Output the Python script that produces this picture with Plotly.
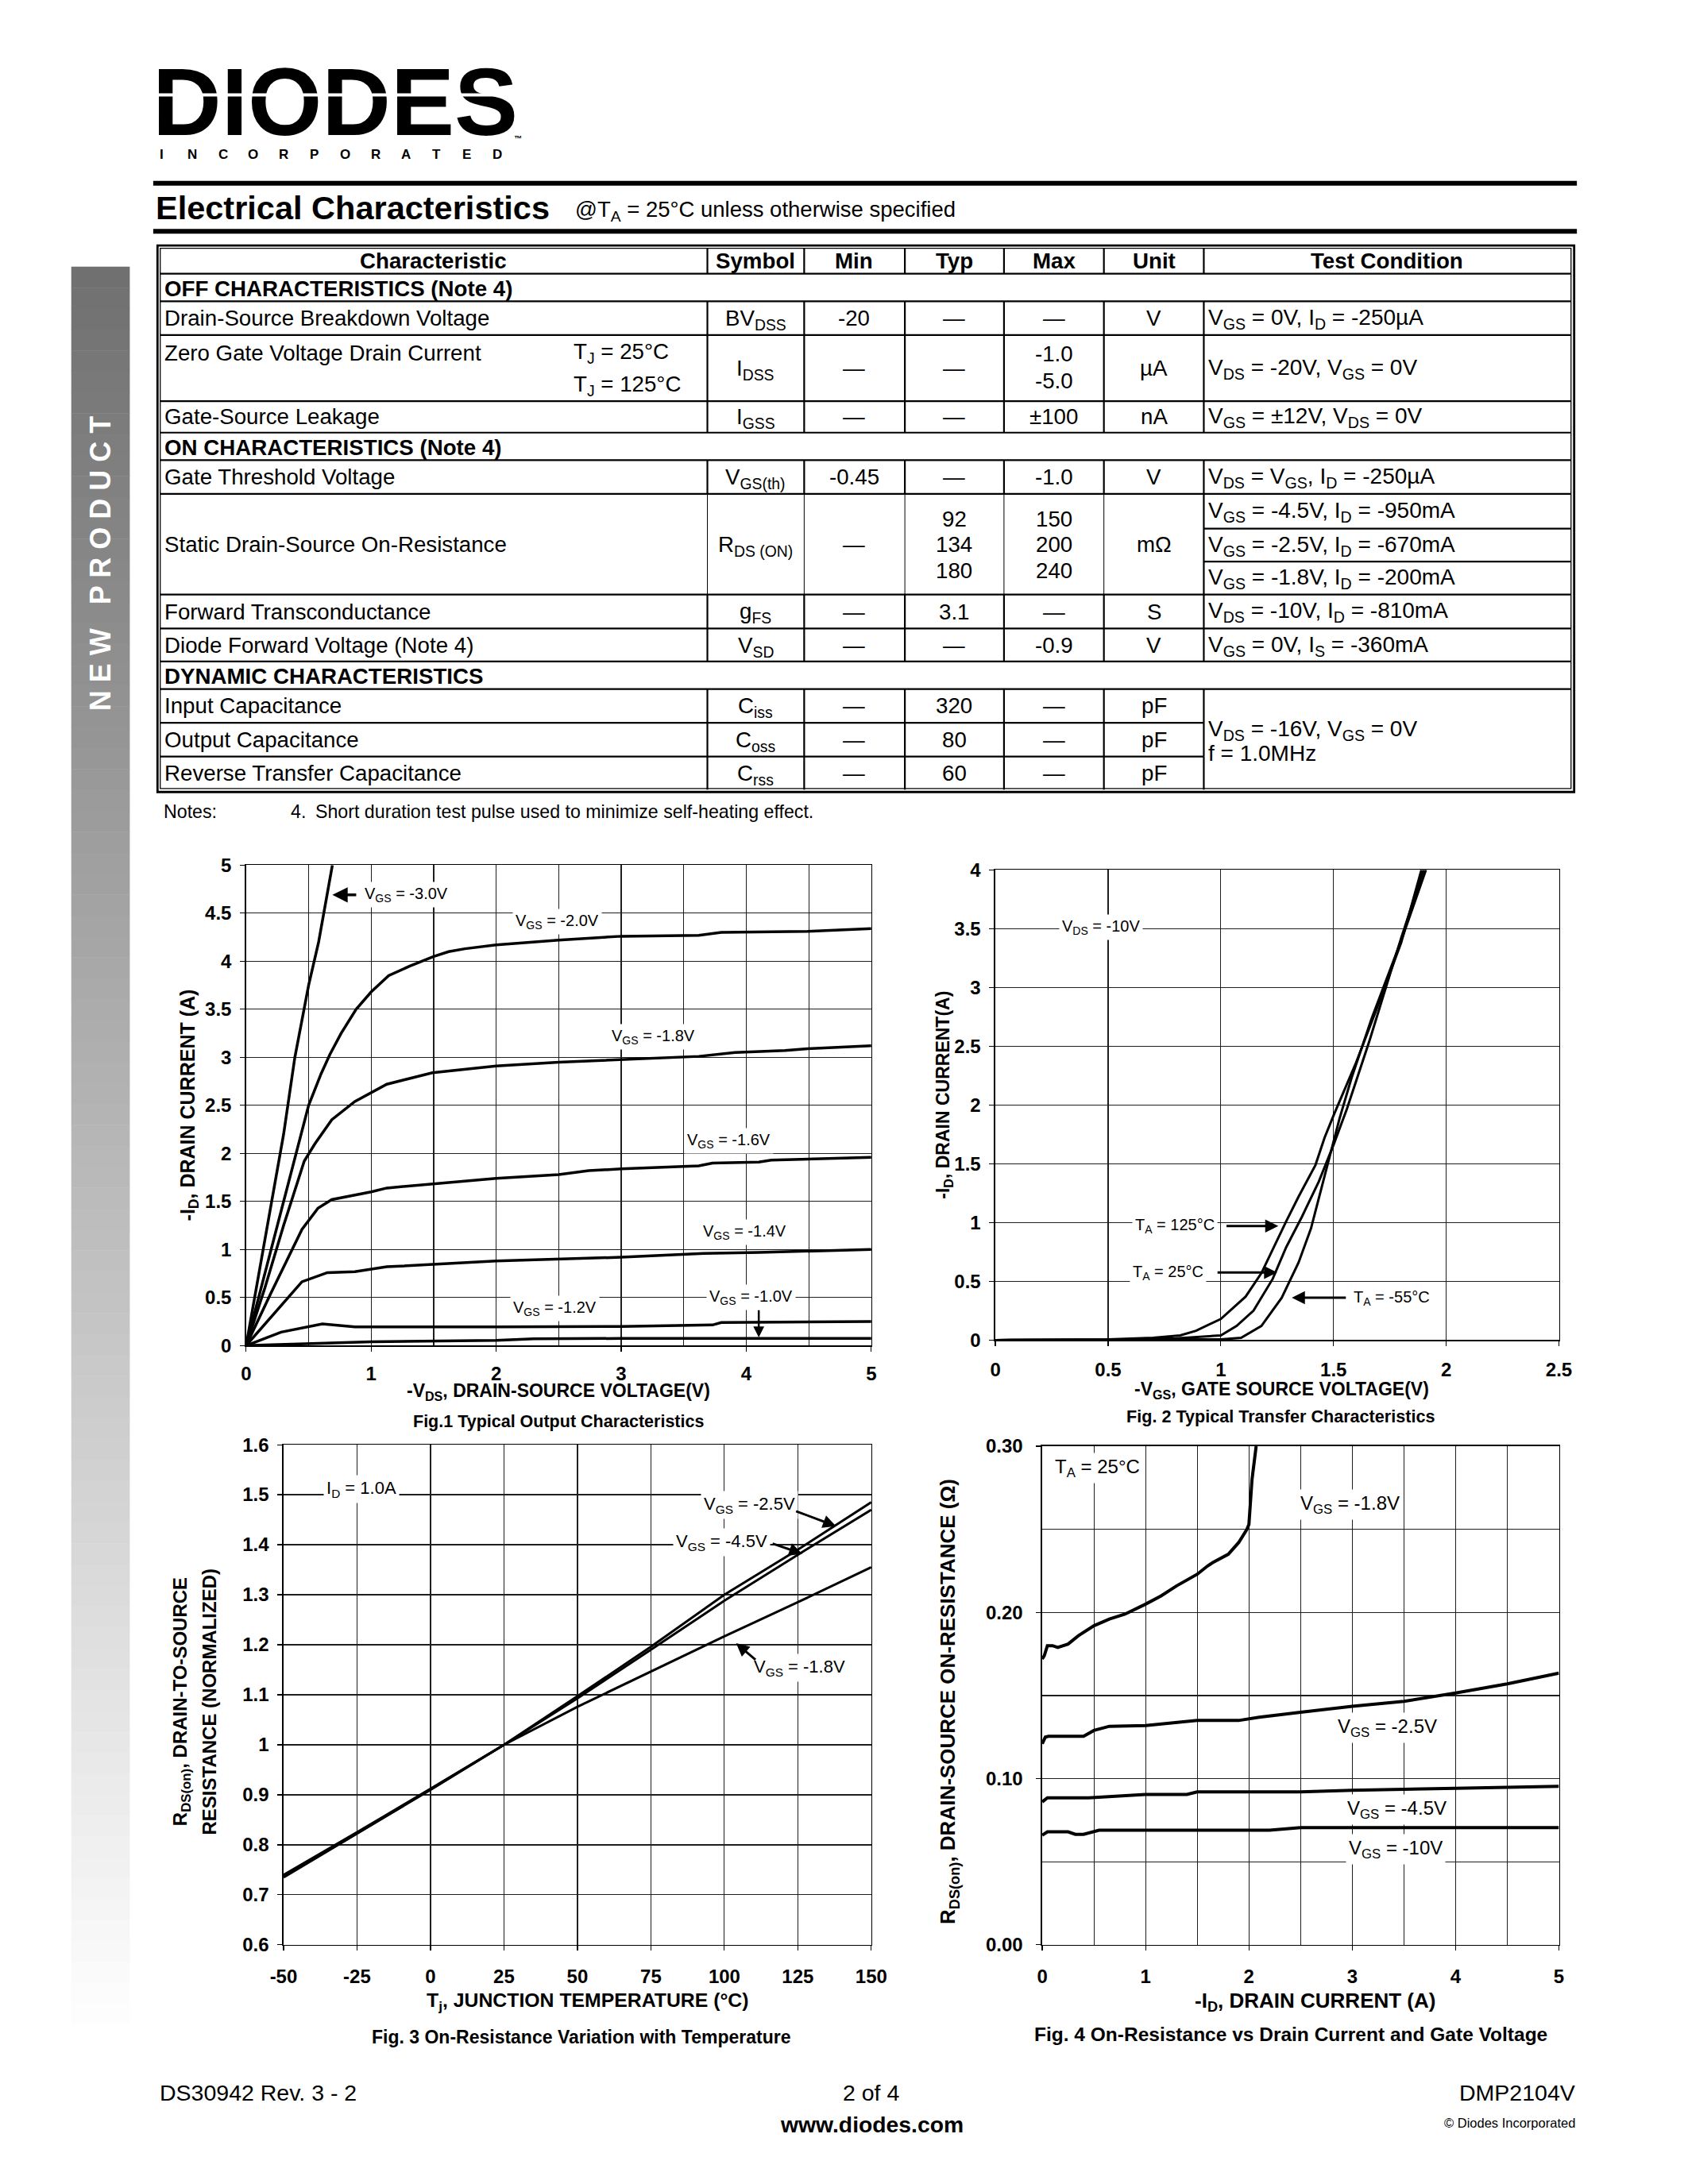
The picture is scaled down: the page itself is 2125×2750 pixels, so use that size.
import plotly.graph_objects as go

W, H = 2125, 2750
FONT = "Liberation Sans, Arial, Helvetica, sans-serif"

# ======================= DATA =======================
# --- Electrical characteristics table ---
col_headers = ["Characteristic", "Symbol", "Min", "Typ", "Max", "Unit", "Test Condition"]
section_titles = ["OFF CHARACTERISTICS (Note 4)", "ON CHARACTERISTICS (Note 4)", "DYNAMIC CHARACTERISTICS"]
char_names = ["Drain-Source Breakdown Voltage", "Zero Gate Voltage Drain Current", "Gate-Source Leakage",
              "Gate Threshold Voltage", "Static Drain-Source On-Resistance", "Forward Transconductance",
              "Diode Forward Voltage (Note 4)", "Input Capacitance", "Output Capacitance",
              "Reverse Transfer Capacitance"]
char_symbols = ["BV<sub>DSS</sub>", "I<sub>DSS</sub>", "I<sub>GSS</sub>", "V<sub>GS(th)</sub>",
                "R<sub>DS (ON)</sub>", "g<sub>FS</sub>", "V<sub>SD</sub>", "C<sub>iss</sub>",
                "C<sub>oss</sub>", "C<sub>rss</sub>"]
min_vals = ["-20", "—", "—", "-0.45", "—", "—", "—", "—", "—", "—"]
typ_vals = [["—"], ["—"], ["—"], ["—"], ["92", "134", "180"], ["3.1"], ["—"], ["320"], ["80"], ["60"]]
max_vals = [["—"], ["-1.0", "-5.0"], ["±100"], ["-1.0"], ["150", "200", "240"], ["—"], ["-0.9"],
            ["—"], ["—"], ["—"]]
unit_vals = ["V", "µA", "nA", "V", "mΩ", "S", "V", "pF", "pF", "pF"]
tj_conditions = ["T<sub>J</sub> = 25°C", "T<sub>J</sub> = 125°C"]
test_conds = [
    ["V<sub>GS</sub> = 0V, I<sub>D</sub> = -250µA"],
    ["V<sub>DS</sub> = -20V, V<sub>GS</sub> = 0V"],
    ["V<sub>GS</sub> = ±12V, V<sub>DS</sub> = 0V"],
    ["V<sub>DS</sub> = V<sub>GS</sub>, I<sub>D</sub> = -250µA"],
    ["V<sub>GS</sub> = -4.5V, I<sub>D</sub> = -950mA", "V<sub>GS</sub> = -2.5V, I<sub>D</sub> = -670mA",
     "V<sub>GS</sub> = -1.8V, I<sub>D</sub> = -200mA"],
    ["V<sub>DS</sub> = -10V, I<sub>D</sub> = -810mA"],
    ["V<sub>GS</sub> = 0V, I<sub>S</sub> = -360mA"],
]
cap_test_cond = ["V<sub>DS</sub> = -16V, V<sub>GS</sub> = 0V", "f = 1.0MHz"]
note_label = "Notes:"
note_num = "4."
note_text = "Short duration test pulse used to minimize self-heating effect."

# --- Fig.1 Typical Output Characteristics (-VDS [V], -ID [A]) ---
f1_vgs30_x = [0, 0.1, 0.2, 0.3, 0.39, 0.5, 0.58, 0.69]
f1_vgs30_y = [0, 0.72, 1.45, 2.2, 3.0, 3.75, 4.2, 5.0]
f1_vgs20_x = [0, 0.1, 0.25, 0.4, 0.5, 0.6, 0.67, 0.76, 0.88, 1.0, 1.14, 1.31, 1.5, 1.62, 1.75, 2.0, 2.5,
              3.0, 3.62, 3.8, 4.49, 5.0]
f1_vgs20_y = [0, 0.5, 1.25, 2.0, 2.5, 2.83, 3.03, 3.25, 3.5, 3.68, 3.85, 3.95, 4.05, 4.1, 4.13, 4.17, 4.22,
              4.26, 4.27, 4.3, 4.31, 4.34]
f1_vgs18_x = [0, 0.15, 0.3, 0.465, 0.55, 0.63, 0.685, 0.87, 1.125, 1.49, 2.0, 2.5, 3.0, 3.62, 3.91, 4.31,
              4.49, 5.0]
f1_vgs18_y = [0, 0.6, 1.25, 1.92, 2.1, 2.25, 2.35, 2.54, 2.72, 2.84, 2.91, 2.95, 2.98, 3.01, 3.05, 3.07,
              3.09, 3.12]
f1_vgs16_x = [0, 0.2, 0.447, 0.575, 0.685, 1.0, 1.125, 2.0, 2.5, 2.74, 3.0, 3.62, 3.73, 4.1, 4.2, 5.0]
f1_vgs16_y = [0, 0.55, 1.21, 1.43, 1.52, 1.6, 1.64, 1.74, 1.78, 1.82, 1.84, 1.87, 1.9, 1.91, 1.93, 1.96]
f1_vgs14_x = [0, 0.447, 0.65, 0.87, 1.125, 2.0, 3.0, 3.66, 4.1, 5.0]
f1_vgs14_y = [0, 0.665, 0.76, 0.77, 0.82, 0.88, 0.92, 0.96, 0.97, 1.0]
f1_vgs12_x = [0, 0.28, 0.61, 0.87, 2.0, 3.0, 3.73, 3.8, 5.0]
f1_vgs12_y = [0, 0.14, 0.225, 0.196, 0.196, 0.2, 0.215, 0.24, 0.25]
f1_vgs10_x = [0, 1.0, 2.0, 2.3, 3.0, 5.0]
f1_vgs10_y = [0, 0.04, 0.055, 0.07, 0.075, 0.075]

# --- Fig.2 Typical Transfer Characteristics (-VGS [V], -ID [A]) ---
f2_t125_x = [0, 0.5, 0.7, 0.82, 0.89, 1.0, 1.11, 1.18, 1.29, 1.345, 1.42, 1.46, 1.5, 1.6, 1.69, 1.8, 1.89]
f2_t125_y = [0, 0.006, 0.02, 0.04, 0.08, 0.18, 0.37, 0.57, 1.01, 1.22, 1.49, 1.72, 1.91, 2.36, 2.81, 3.38, 4.0]
f2_t25_x = [0, 0.5, 0.8, 1.0, 1.07, 1.145, 1.23, 1.29, 1.36, 1.435, 1.5, 1.56, 1.66, 1.8, 1.9]
f2_t25_y = [0, 0.003, 0.015, 0.04, 0.12, 0.25, 0.52, 0.79, 1.05, 1.35, 1.66, 1.97, 2.55, 3.42, 4.0]
f2_tm55_x = [0, 0.5, 1.0, 1.09, 1.18, 1.27, 1.345, 1.4, 1.47, 1.526, 1.58, 1.67, 1.81, 1.91]
f2_tm55_y = [0, 0.002, 0.006, 0.02, 0.12, 0.36, 0.66, 0.95, 1.46, 1.88, 2.23, 2.74, 3.45, 4.0]

# --- Fig.3 On-Resistance vs Temperature (Tj [°C], normalized RDS(on)) ---
f3_temp = [-50, -25, 0, 25, 50, 75, 100, 125, 150]
f3_vgs25 = [0.74, 0.825, 0.912, 1.0, 1.097, 1.196, 1.30, 1.39, 1.485]
f3_vgs45 = [0.735, 0.822, 0.91, 1.0, 1.093, 1.19, 1.288, 1.38, 1.47]
f3_vgs18 = [0.737, 0.823, 0.911, 1.0, 1.076, 1.147, 1.217, 1.285, 1.355]
f3_xtick_vals = [-50, -25, 0, 25, 50, 75, 100, 125, 150]
f3_xtick_text = ["-50", "-25", "0", "25", "50", "75", "100", "125", "150"]

# --- Fig.4 On-Resistance vs Drain Current (-ID [A], RDS(on) [ohm]) ---
f4_vgs18_x = [0.0, 0.02, 0.05, 0.1, 0.15, 0.25, 0.35, 0.5, 0.65, 0.8, 1.0, 1.15, 1.3, 1.5, 1.6, 1.65, 1.8,
              1.9, 1.98, 2.0, 2.03, 2.07]
f4_vgs18_y = [0.172, 0.174, 0.18, 0.18, 0.179, 0.181, 0.186, 0.192, 0.196, 0.199, 0.205, 0.21, 0.216,
              0.223, 0.228, 0.23, 0.235, 0.242, 0.25, 0.253, 0.28, 0.30]
f4_vgs25_x = [0.0, 0.03, 0.06, 0.4, 0.5, 0.65, 1.0, 1.5, 1.9, 2.0, 2.1, 2.5, 3.0, 3.5, 4.0, 4.5, 5.0]
f4_vgs25_y = [0.121, 0.125, 0.1255, 0.1255, 0.129, 0.1315, 0.132, 0.135, 0.135, 0.136, 0.137, 0.14,
              0.1435, 0.1465, 0.1515, 0.157, 0.1635]
f4_vgs45_x = [0.0, 0.05, 0.45, 0.6, 1.0, 1.4, 1.5, 2.5, 3.0, 4.0, 5.0]
f4_vgs45_y = [0.086, 0.0885, 0.0885, 0.089, 0.0905, 0.0905, 0.092, 0.092, 0.093, 0.0942, 0.0954]
f4_vgs10_x = [0.0, 0.05, 0.25, 0.32, 0.4, 0.55, 1.0, 2.2, 2.5, 5.0]
f4_vgs10_y = [0.066, 0.068, 0.068, 0.0665, 0.0665, 0.069, 0.069, 0.069, 0.0705, 0.0705]

# ======================= HELPERS =======================
def X(p):
    return p / W


def Y(p):
    return 1 - p / H


shapes = []
annotations = []


def pline(x0, y0, x1, y1, w=2.2, color="black"):
    shapes.append(dict(type="line", xref="paper", yref="paper", x0=X(x0), y0=Y(y0), x1=X(x1), y1=Y(y1),
                       line=dict(color=color, width=w)))


def prect(x0, y0, x1, y1, fill):
    shapes.append(dict(type="rect", xref="paper", yref="paper", x0=X(x0), y0=Y(y0), x1=X(x1), y1=Y(y1),
                       fillcolor=fill, line=dict(width=0), layer="below"))


def ptxt(x, y, text, size, bold=False, xanchor="left", yanchor="middle", color="black", angle=0, **kw):
    d = dict(xref="paper", yref="paper", x=X(x), y=Y(y), text=text, showarrow=False,
             xanchor=xanchor, yanchor=yanchor, textangle=angle,
             font=dict(family=FONT, size=size, color=color, weight="bold" if bold else "normal"))
    d.update(kw)
    annotations.append(d)


def dlab(n, x, y, text, size, xanchor="center"):
    s = "" if n == 1 else str(n)
    annotations.append(dict(xref="x" + s, yref="y" + s, x=x, y=y, text=text, showarrow=False,
                            xanchor=xanchor, yanchor="middle", bgcolor="white", borderpad=3,
                            font=dict(family=FONT, size=size, color="black")))


def darrow(n, tail, tip, width=3, size=1.1):
    s = "" if n == 1 else str(n)
    annotations.append(dict(xref="x" + s, yref="y" + s, axref="x" + s, ayref="y" + s,
                            x=tip[0], y=tip[1], ax=tail[0], ay=tail[1], text="", showarrow=True,
                            arrowhead=2, arrowsize=size, arrowwidth=width, arrowcolor="black",
                            standoff=0, startstandoff=0))


# ======================= PAGE DECORATION =======================
# side gradient bar
bar_top, bar_bot, fade_end = 325, 2720, 2560
nseg = 90
for i in range(nseg):
    y0 = bar_top + (bar_bot - bar_top) * i / nseg
    y1 = bar_top + (bar_bot - bar_top) * (i + 1) / nseg + 0.5
    t = min(1.0, (y0 - bar_top) / (fade_end - bar_top))
    v = int(round(112 + (255 - 112) * t))
    prect(74, y0, 149, y1, "rgb(%d,%d,%d)" % (v, v, v))
ptxt(111, 703, "N E W   P R O D U C T", 36, bold=True, xanchor="center", color="white", angle=-90)

# logo
ptxt(177, 115, "DIODES", 120, bold=True, height=100, valign="middle", borderpad=0)
annotations.append(dict(xref="paper", yref="paper", x=X(182), y=Y(107), text=" ", showarrow=False,
                        xanchor="left", yanchor="middle", width=450, height=3, bgcolor="white",
                        borderpad=0, font=dict(size=2)))
ptxt(646, 162, "™", 10, bold=True, xanchor="center")
for i, ch in enumerate("INCORPORATED"):
    ptxt(190 + i * 39.1, 182, ch, 17, bold=True, xanchor="center")

# header rules and title
pline(179, 219, 2003, 219, w=6)
pline(179, 280, 2003, 280, w=6)
ptxt(180, 250, "Electrical Characteristics", 41.5, bold=True)
ptxt(718, 254, "@T<sub>A</sub> = 25°C unless otherwise specified", 27.5)

# ======================= TABLE =======================
L_OUT, R_OUT, T_OUT, B_OUT = 184.5, 1999.5, 298, 993
L_IN, R_IN, T_IN, B_IN = 188, 1995.5, 301.5, 988.5
shapes.append(dict(type="rect", xref="paper", yref="paper", x0=X(L_OUT), y0=Y(B_OUT), x1=X(R_OUT),
                   y1=Y(T_OUT), line=dict(color="black", width=2.8)))
shapes.append(dict(type="rect", xref="paper", yref="paper", x0=X(L_IN), y0=Y(B_IN), x1=X(R_IN),
                   y1=Y(T_IN), line=dict(color="black", width=1.3)))

col_x = [889, 1013, 1142, 1269, 1397, 1525]
col_center = [538, 951, 1077, 1205, 1333, 1461, 1760]
header_band = (301, 334)
section_bands = [(334, 369), (536, 571), (827, 862)]
row_bands = [(369, 412), (412, 496), (496, 536), (571, 614), (614, 742), (742, 785), (785, 827),
             (862, 905), (905, 948), (948, 990)]

# horizontal rules
for yb in [334, 369, 412, 496, 536, 571, 614, 742, 785, 827, 862]:
    pline(L_IN, yb, R_IN, yb, w=2.2)
for yb in [905, 948]:
    pline(L_IN, yb, col_x[5], yb, w=2.2)
for yb in [658, 700]:
    pline(col_x[5], yb, R_IN, yb, w=2.2)

# vertical rules
for (a, b) in [header_band] + row_bands:
    for k, cx in enumerate(col_x):
        w = 2.2
        if (a, b) == (614, 742) and k < 5:
            w = 1.0
        pline(cx, a, cx, b, w=w)

TS = 27.7
# header text
for k in range(7):
    ptxt(col_center[k], 318, col_headers[k], TS, bold=True, xanchor="center")
for (a, b), s in zip(section_bands, section_titles):
    ptxt(191, (a + b) / 2 + 1, s, TS, bold=True)

# body text
for i, (a, b) in enumerate(row_bands):
    yc = (a + b) / 2
    name_y = 435 if i == 1 else yc
    ptxt(191, name_y, char_names[i], TS)
    ptxt(col_center[1], yc + 2, char_symbols[i], TS, xanchor="center")
    ptxt(col_center[2], yc, min_vals[i], TS, xanchor="center")
    tv = typ_vals[i]
    mv = max_vals[i]
    if len(tv) == 3:
        ys3 = [646, 678, 711]
        for j in range(3):
            ptxt(col_center[3], ys3[j], tv[j], TS, xanchor="center")
            ptxt(col_center[4], ys3[j], mv[j], TS, xanchor="center")
    else:
        ptxt(col_center[3], yc, tv[0], TS, xanchor="center")
        if len(mv) == 2:
            ptxt(col_center[4], 436, mv[0], TS, xanchor="center")
            ptxt(col_center[4], 470, mv[1], TS, xanchor="center")
        else:
            ptxt(col_center[4], yc, mv[0], TS, xanchor="center")
    ptxt(col_center[5], yc, unit_vals[i], TS, xanchor="center")
    if i < len(test_conds):
        tc = test_conds[i]
        if len(tc) == 3:
            for j, yy in enumerate([637, 680, 722]):
                ptxt(1529, yy, tc[j], 28)
        else:
            ptxt(1529, yc + 1, tc[0], 28)
ptxt(715, 435, tj_conditions[0], TS)
ptxt(715, 476, tj_conditions[1], TS)
ptxt(1529, 914, cap_test_cond[0], 28)
ptxt(1529, 944, cap_test_cond[1], 28)

# notes
ptxt(190, 1018, note_label, 23.2)
ptxt(353, 1018, note_num, 23.2)
ptxt(385, 1018, note_text, 23.2)

# ======================= CHARTS =======================
fig = go.Figure()

LW1, LW2, LW3, LW4 = 3.5, 3.0, 3.0, 4.0
for xs, ys in [(f1_vgs30_x, f1_vgs30_y), (f1_vgs20_x, f1_vgs20_y), (f1_vgs18_x, f1_vgs18_y),
               (f1_vgs16_x, f1_vgs16_y), (f1_vgs14_x, f1_vgs14_y), (f1_vgs12_x, f1_vgs12_y),
               (f1_vgs10_x, f1_vgs10_y)]:
    fig.add_trace(go.Scatter(x=xs, y=ys, mode="lines", line=dict(color="black", width=LW1),
                             xaxis="x", yaxis="y", hoverinfo="skip"))
for xs, ys in [(f2_t125_x, f2_t125_y), (f2_t25_x, f2_t25_y), (f2_tm55_x, f2_tm55_y)]:
    fig.add_trace(go.Scatter(x=xs, y=ys, mode="lines", line=dict(color="black", width=LW2),
                             xaxis="x2", yaxis="y2", hoverinfo="skip"))
for ys in [f3_vgs25, f3_vgs45, f3_vgs18]:
    fig.add_trace(go.Scatter(x=f3_temp, y=ys, mode="lines", line=dict(color="black", width=LW3),
                             xaxis="x3", yaxis="y3", hoverinfo="skip"))
for xs, ys in [(f4_vgs18_x, f4_vgs18_y), (f4_vgs25_x, f4_vgs25_y), (f4_vgs45_x, f4_vgs45_y),
               (f4_vgs10_x, f4_vgs10_y)]:
    fig.add_trace(go.Scatter(x=xs, y=ys, mode="lines", line=dict(color="black", width=LW4),
                             xaxis="x4", yaxis="y4", hoverinfo="skip"))

GRID = "#1e1e1e"
TICKSIZE = 24


def axis(domain, rng, dtick, anchor, minor=None, fmt=None, standoff=10):
    d = dict(domain=domain, range=rng, dtick=dtick, tick0=0,
             anchor=anchor, showline=True, linecolor="black", linewidth=1.6, mirror=True,
             showgrid=True, gridcolor=GRID, gridwidth=1.2, zeroline=False,
             ticks="outside", ticklen=6, tickwidth=1.2, tickcolor="black",
             ticklabelstandoff=standoff,
             tickfont=dict(family=FONT, size=TICKSIZE, color="black", weight="bold"), fixedrange=True)
    if minor is not None:
        d["minor"] = dict(dtick=minor, showgrid=True, gridcolor=GRID, gridwidth=1.2, ticks="")
    if fmt:
        d["tickformat"] = fmt
    return d


boxes = {1: (298, 1099, 1086, 1697), 2: (1258, 1980, 1092, 1690),
         3: (346, 1099, 1823, 2459), 4: (1318, 1980, 1825, 2459)}


def xd(n):
    b = boxes[n]
    return [X(b[0]), X(b[1])]


def yd(n):
    b = boxes[n]
    return [Y(b[3]), Y(b[2])]


layout_axes = dict(
    xaxis=axis(xd(1), [0, 5], 1, "y", minor=0.5, standoff=7),
    yaxis=axis(yd(1), [0, 5], 0.5, "x", standoff=6),
    xaxis2=axis(xd(2), [0, 2.5], 0.5, "y2", standoff=9),
    yaxis2=axis(yd(2), [0, 4], 0.5, "x2", standoff=6),
    xaxis3=axis(xd(3), [-50, 150], 25, "y3", standoff=12),
    yaxis3=axis(yd(3), [0.6, 1.6], 0.1, "x3", standoff=6),
    xaxis4=axis(xd(4), [0, 5], 1, "y4", minor=0.5, standoff=12),
    yaxis4=axis(yd(4), [0, 0.3], 0.1, "x4", minor=0.05, fmt=".2f", standoff=12),
)
layout_axes["xaxis3"].update(tickmode="array", tickvals=f3_xtick_vals, ticktext=f3_xtick_text)

# --- Fig.1 labels ---
dlab(1, 0.92, 4.69, "V<sub>GS</sub> = -3.0V", 20, xanchor="left")
darrow(1, (0.89, 4.69), (0.69, 4.69), width=3.5)
dlab(1, 2.49, 4.41, "V<sub>GS</sub> = -2.0V", 20)
dlab(1, 3.26, 3.21, "V<sub>GS</sub> = -1.8V", 20)
dlab(1, 3.86, 2.13, "V<sub>GS</sub> = -1.6V", 20)
dlab(1, 3.99, 1.18, "V<sub>GS</sub> = -1.4V", 20)
dlab(1, 2.47, 0.39, "V<sub>GS</sub> = -1.2V", 20)
dlab(1, 4.04, 0.50, "V<sub>GS</sub> = -1.0V", 20)
darrow(1, (4.1, 0.38), (4.1, 0.085), width=2.5)
ptxt(225, 1391, "-I<sub>D</sub>, DRAIN CURRENT (A)", 25, bold=True, xanchor="center", angle=-90)
ptxt(698, 1756, "-V<sub>DS</sub>, DRAIN-SOURCE VOLTAGE(V)", 23, bold=True, xanchor="center")
ptxt(698, 1794, "Fig.1 Typical Output Characteristics", 21.5, bold=True, xanchor="center")

# --- Fig.2 labels ---
dlab(2, 0.468, 3.51, "V<sub>DS</sub> = -10V", 20)
dlab(2, 0.797, 0.97, "T<sub>A</sub> = 125°C", 20)
darrow(2, (1.02, 0.97), (1.255, 0.97))
dlab(2, 0.766, 0.575, "T<sub>A</sub> = 25°C", 20)
darrow(2, (0.98, 0.575), (1.25, 0.575))
dlab(2, 1.758, 0.355, "T<sub>A</sub> = -55°C", 20)
darrow(2, (1.56, 0.36), (1.315, 0.36))
ptxt(1192, 1378, "-I<sub>D</sub>, DRAIN CURRENT(A)", 23, bold=True, xanchor="center", angle=-90)
ptxt(1625, 1754, "-V<sub>GS</sub>, GATE SOURCE VOLTAGE(V)", 23, bold=True, xanchor="center")
ptxt(1623, 1787, "Fig. 2 Typical Transfer Characteristics", 21.6, bold=True, xanchor="center")

# --- Fig.3 labels ---
dlab(3, -23.4, 1.512, "I<sub>D</sub> = 1.0A", 22)
dlab(3, 108.5, 1.48, "V<sub>GS</sub> = -2.5V", 22)
darrow(3, (124, 1.468), (138, 1.437))
dlab(3, 99.2, 1.405, "V<sub>GS</sub> = -4.5V", 22)
darrow(3, (116, 1.403), (126.5, 1.382))
dlab(3, 125.5, 1.154, "V<sub>GS</sub> = -1.8V", 22)
darrow(3, (111, 1.168), (104, 1.203))
ptxt(216, 2150, "R<sub>DS(on)</sub>, DRAIN-TO-SOURCE", 24, bold=True, xanchor="center", angle=-90)
ptxt(251, 2150, "RESISTANCE (NORMALIZED)", 24, bold=True, xanchor="center", angle=-90)
ptxt(736, 2531, "T<sub>j</sub>, JUNCTION TEMPERATURE (°C)", 24.8, bold=True, xanchor="center")
ptxt(727, 2576, "Fig. 3 On-Resistance Variation with Temperature", 23, bold=True, xanchor="center")

# --- Fig.4 labels ---
dlab(4, 0.53, 0.2867, "T<sub>A</sub> = 25°C", 24)
dlab(4, 2.98, 0.265, "V<sub>GS</sub> = -1.8V", 24)
dlab(4, 3.34, 0.1305, "V<sub>GS</sub> = -2.5V", 24)
dlab(4, 3.43, 0.0814, "V<sub>GS</sub> = -4.5V", 24)
dlab(4, 3.42, 0.0573, "V<sub>GS</sub> = -10V", 24)
ptxt(1199, 2150, "R<sub>DS(on)</sub>, DRAIN-SOURCE ON-RESISTANCE (Ω)", 26, bold=True, xanchor="center", angle=-90)
ptxt(1668, 2531, "-I<sub>D</sub>, DRAIN CURRENT (A)", 26, bold=True, xanchor="center")
ptxt(1636, 2573, "Fig. 4 On-Resistance vs Drain Current and Gate Voltage", 24.5, bold=True, xanchor="center")

# ======================= FOOTER =======================
ptxt(185, 2647, "DS30942 Rev. 3 - 2", 28.5)
ptxt(1099, 2647, "2 of 4", 28.5, xanchor="center")
ptxt(2003, 2647, "DMP2104V", 28.5, xanchor="right")
ptxt(1100, 2687, "www.diodes.com", 28.3, bold=True, xanchor="center")
ptxt(2003, 2685, "© Diodes Incorporated", 16.5, xanchor="right")

fig.update_layout(
    width=W, height=H, margin=dict(l=0, r=0, t=0, b=0), autosize=False,
    paper_bgcolor="white", plot_bgcolor="white", showlegend=False,
    font=dict(family=FONT, color="black"),
    shapes=shapes, annotations=annotations, **layout_axes)

fig.write_html("out.html",
               config={"displayModeBar": False, "staticPlot": True},
               post_script="document.body.style.margin='0';document.body.style.padding='0';"
                           "document.body.style.overflow='hidden';")
